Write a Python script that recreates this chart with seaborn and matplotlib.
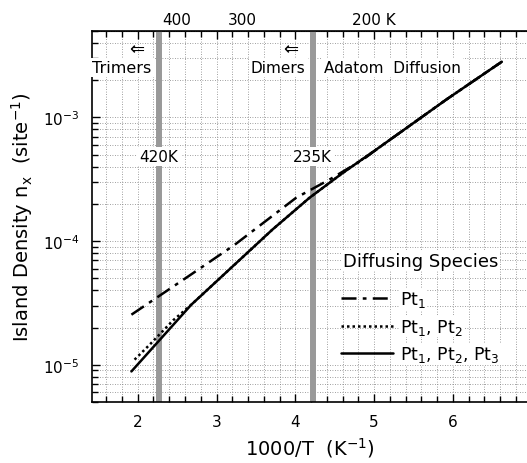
import numpy as np
import pandas as pd
import matplotlib
matplotlib.use("Agg")
import matplotlib.pyplot as plt
import matplotlib.ticker as mticker
import seaborn as sns

# values (x = 1000/T, y = island density)
x_pt1 = [1.92, 2.66, 3.23, 4.01, 4.44, 4.86, 5.07, 5.92, 6.62]
y_pt1 = [2.54e-5, 5.28e-5, 9.33e-5, 2.24e-4, 3.16e-4, 4.57e-4, 5.75e-4, 1.40e-3, 2.82e-3]

x_pt12 = [1.96, 2.15, 2.45, 2.68, 3.23, 3.71, 4.18, 4.60, 5.07, 5.92, 6.62]
y_pt12 = [1.10e-5, 1.45e-5, 2.29e-5, 3.06e-5, 6.46e-5, 1.24e-4, 2.24e-4, 3.55e-4, 5.75e-4, 1.40e-3, 2.82e-3]

x_pt123 = [1.92, 2.28, 2.68, 3.23, 3.71, 4.18, 4.60, 5.07, 5.92, 6.62]
y_pt123 = [8.83e-6, 1.59e-5, 3.06e-5, 6.46e-5, 1.24e-4, 2.24e-4, 3.55e-4, 5.75e-4, 1.40e-3, 2.82e-3]

labels = [r"Pt$_1$", r"Pt$_1$, Pt$_2$", r"Pt$_1$, Pt$_2$, Pt$_3$"]
bar_x = [2.27, 4.22]
bar_labels = ["420K", "235K"]
top_temps = [400, 300, 200]
top_labels = ["400", "300", "200 K"]

sns.set_style("ticks")
plt.rcParams['font.family'] = ['DejaVu Sans']
plt.rcParams['mathtext.fontset'] = 'dejavusans'
for key in ['text.color', 'axes.labelcolor', 'xtick.color', 'ytick.color', 'axes.edgecolor']:
    plt.rcParams[key] = 'black'

fig = plt.figure(figsize=(5.27, 4.64), dpi=100)
ax = fig.add_axes([0.1746, 0.1315, 0.8254, 0.7996])

# transition bars
for bx in bar_x:
    ax.axvline(bx, color='#999999', lw=4.3, zorder=1)

styles = [(0, (6, 2.5, 1.5, 2.5)), (0, (1, 1.2)), '-']
series = [(x_pt1, y_pt1), (x_pt12, y_pt12), (x_pt123, y_pt123)]
for (xs, ys), lab, ls in zip(series, labels, styles):
    df = pd.DataFrame({'x': xs, 'y': ys})
    sns.lineplot(data=df, x='x', y='y', ax=ax, color='black', lw=1.8,
                 linestyle=ls, label=lab, zorder=3)

ax.set_yscale('log')
ax.set_xlim(1.42, 6.94)
ax.set_ylim(5e-6, 5e-3)

ax.xaxis.set_major_locator(mticker.MultipleLocator(1))
ax.xaxis.set_minor_locator(mticker.MultipleLocator(0.2))
ax.yaxis.set_major_locator(mticker.LogLocator(base=10))
ax.yaxis.set_minor_locator(mticker.LogLocator(base=10, subs=np.arange(2, 10)))
ax.yaxis.set_minor_formatter(mticker.NullFormatter())

ax.grid(which='both', linestyle=(0, (1, 2)), color='0.5', lw=0.6, zorder=0)
ax.tick_params(which='both', direction='in', top=True, right=False, labelsize=11, width=1)
ax.tick_params(which='major', length=6, pad=9)
ax.tick_params(which='minor', length=4)
for side in ['left', 'bottom', 'top']:
    ax.spines[side].set_linewidth(1.2)
ax.spines['right'].set_visible(False)

ax.set_xlabel(r"1000/T  (K$^{-1}$)", fontsize=14, labelpad=4)
ax.set_ylabel(r"Island Density n$_\mathregular{x}$  (site$^{-1}$)", fontsize=14, labelpad=6)

# temperature scale on top
def inv(v):
    v = np.asarray(v, dtype=float)
    with np.errstate(divide='ignore', invalid='ignore'):
        return 1000.0 / v

sec = ax.secondary_xaxis('top', functions=(inv, inv))
sec.set_xticks(top_temps)
sec.set_xticklabels(top_labels)
sec.tick_params(length=0, labelsize=11, pad=3)
sec.xaxis.set_minor_locator(mticker.NullLocator())

box = dict(facecolor='white', edgecolor='none', pad=1.5)
ax.text(1.425, 2.54e-3, "Trimers", fontsize=11.5, ha='left', va='center', bbox=box, zorder=4)
ax.text(1.99, 3.56e-3, "⇐", fontsize=13, ha='center', va='center', zorder=4)
ax.text(4.13, 2.54e-3, "Dimers", fontsize=11, ha='right', va='center', bbox=box, zorder=4)
ax.text(3.94, 3.56e-3, "⇐", fontsize=13, ha='center', va='center', zorder=4)
ax.text(4.37, 2.54e-3, "Adatom  Diffusion", fontsize=11, ha='left', va='center', bbox=box, zorder=4)
for bx, bl in zip(bar_x, bar_labels):
    ax.text(bx, 4.83e-4, bl, fontsize=11, ha='center', va='center', bbox=box, zorder=4)

ax.text(0.577, 0.38, "Diffusing Species", transform=ax.transAxes, fontsize=13,
        ha='left', va='center', zorder=4,
        bbox=dict(facecolor='white', edgecolor='none', pad=0.5))
leg = ax.legend(loc='upper left', bbox_to_anchor=(0.537, 0.347), frameon=False,
                fontsize=12.5, handlelength=3.0, handletextpad=0.4, labelspacing=0.45)
for t in leg.get_texts():
    t.set_bbox(dict(facecolor='white', edgecolor='none', pad=0.5))

fig.savefig("out.png", dpi=100)
